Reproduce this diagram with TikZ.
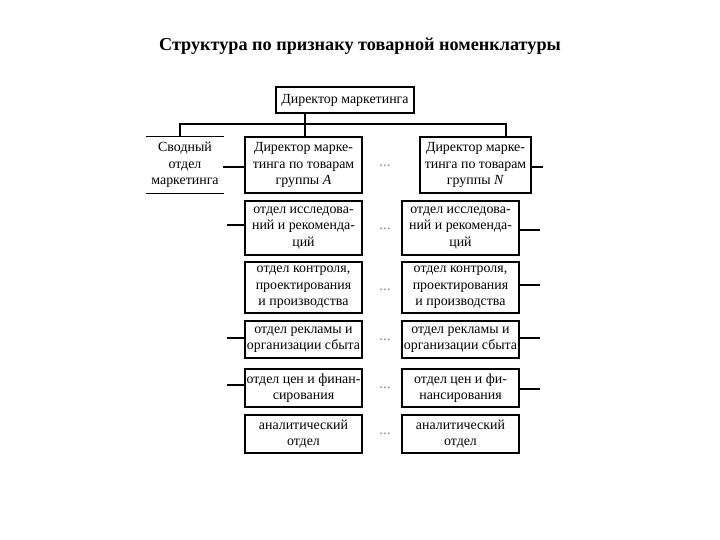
\documentclass[tikz,border=0pt]{standalone}
\usepackage{fontspec}
\setmainfont{Liberation Serif}
\begin{document}
\begin{tikzpicture}[x=1pt,y=-1pt,
  box/.style={draw, line width=1.1pt, align=center, inner sep=1pt,
    font=\fontsize{13.9}{16.5}\selectfont},
  plain/.style={align=center, inner sep=1pt, font=\fontsize{13.9}{16.5}\selectfont},
  dots/.style={text=black!45, font=\fontsize{15}{15}\selectfont, inner sep=0pt},
  conn/.style={line width=1.1pt}]
\useasboundingbox (0,0) rectangle (720,540);
\fill[white] (0,0) rectangle (720,540);
\node[font=\fontsize{18.2}{20}\selectfont\bfseries] (title) at (360,46) {Структура по признаку товарной номенклатуры};
% top
\node[box, minimum width=138pt, minimum height=26pt] (top) at (345,100) {Директор маркетинга};
% second level
\node[plain, minimum width=77pt, minimum height=57pt] (svod) at (185,165) {Сводный\\отдел\\маркетинга};
\draw[conn] (svod.north west) -- (svod.north east);
\draw[conn] (svod.south west) -- (svod.south east);
\node[box, minimum width=117pt, minimum height=56pt] (A) at (303.5,165) {Директор марке-\\тинга по товарам\\группы \textit{A}};
\node[box, minimum width=111pt, minimum height=56pt] (N) at (475.5,165) {Директор марке-\\тинга по товарам\\группы \textit{N}};
% rows
\node[box, minimum width=117pt, minimum height=54pt] (r2L) at (303.5,228) {отдел исследова-\\ний и рекоменда-\\ций};
\node[box, minimum width=117pt, minimum height=54pt] (r2R) at (460.5,228) {отдел исследова-\\ний и рекоменда-\\ций};
\node[box, minimum width=117pt, minimum height=51pt] (r3L) at (303.5,287.5) {отдел контроля,\\проектирования\\и производства};
\node[box, minimum width=117pt, minimum height=51pt] (r3R) at (460.5,287.5) {отдел контроля,\\проектирования\\и производства};
\node[box, minimum width=117pt, minimum height=37pt] (r4L) at (303.5,339.5) {отдел рекламы и\\организации сбыта};
\node[box, minimum width=117pt, minimum height=37pt] (r4R) at (460.5,339.5) {отдел рекламы и\\организации сбыта};
\node[box, minimum width=117pt, minimum height=38pt] (r5L) at (303.5,388) {отдел цен и финан-\\сирования};
\node[box, minimum width=117pt, minimum height=38pt] (r5R) at (460.5,388) {отдел цен и фи-\\нансирования};
\node[box, minimum width=117pt, minimum height=38pt] (r6L) at (303.5,434) {аналитический\\отдел};
\node[box, minimum width=117pt, minimum height=38pt] (r6R) at (460.5,434) {аналитический\\отдел};
% dots
\node[dots] (d1) at (385,166) {...};
\node[dots] (d2) at (385,229) {...};
\node[dots] (d3) at (385,290) {...};
\node[dots] (d4) at (385,340) {...};
\node[dots] (d5) at (385,388) {...};
\node[dots] (d6) at (385,434) {...};
% tree connectors
\coordinate (jL) at (180,124);
\coordinate (jR) at (506,124);
\draw[conn] (jL |- svod.north) -- (jL) -- (jR) -- (jR |- N.north);
\draw[conn] (305,0 |- top.south) -- (305,0 |- A.north);
% left stubs
\coordinate (l1) at (223,167);
\coordinate (l2) at (227,225);
\coordinate (l4) at (227,338);
\coordinate (l5) at (227,385);
\draw[conn] (l1) -- (l1 -| A.west);
\draw[conn] (l2) -- (l2 -| r2L.west);
\draw[conn] (l4) -- (l4 -| r4L.west);
\draw[conn] (l5) -- (l5 -| r5L.west);
% right stubs
\coordinate (e1) at (543,167);
\coordinate (e2) at (540,230);
\coordinate (e3) at (540,285);
\coordinate (e4) at (540,338);
\coordinate (e5) at (540,389);
\draw[conn] (N.east |- e1) -- (e1);
\draw[conn] (r2R.east |- e2) -- (e2);
\draw[conn] (r3R.east |- e3) -- (e3);
\draw[conn] (r4R.east |- e4) -- (e4);
\draw[conn] (r5R.east |- e5) -- (e5);
\end{tikzpicture}
\end{document}
